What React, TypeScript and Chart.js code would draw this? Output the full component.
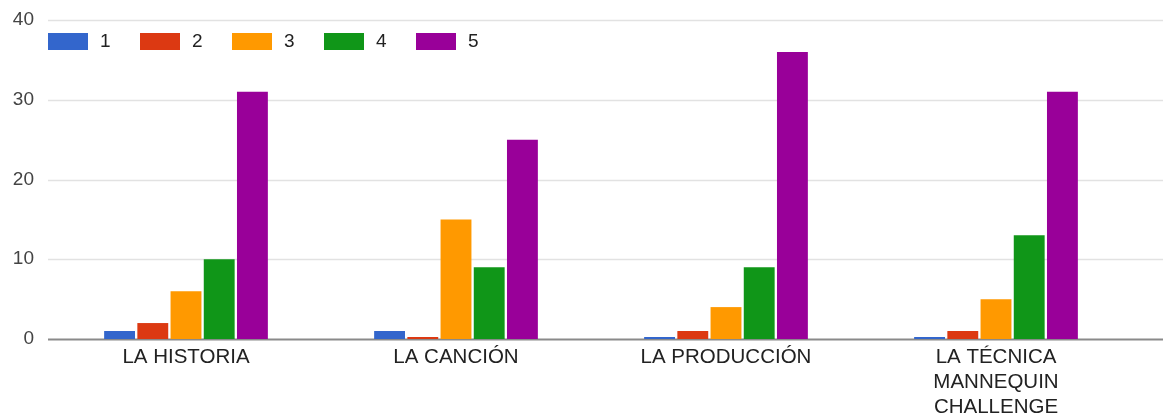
import React, { useEffect, useRef } from "react";
import { Chart, registerables } from "chart.js";

Chart.register(...registerables);

const categories: (string | string[])[] = [
  "LA HISTORIA",
  "LA CANCIÓN",
  "LA PRODUCCIÓN",
  ["LA TÉCNICA", "MANNEQUIN", "CHALLENGE"],
];

const seriesLabels = ["1", "2", "3", "4", "5"];
const seriesColors = ["#3366cc", "#dc3912", "#ff9900", "#109618", "#990099"];

const rating1 = [1, 1, 0, 0];
const rating2 = [2, 0, 1, 1];
const rating3 = [6, 15, 4, 5];
const rating4 = [10, 9, 9, 13];
const rating5 = [31, 25, 36, 31];

const yTicks = [0, 10, 20, 30, 40];

const FONT = "'Liberation Sans', Arial, sans-serif";

// Horizontal gridlines that run from just left of the plot to the canvas edge
const gridPlugin = {
  id: "wideGrid",
  beforeDatasetsDraw(chart: any) {
    const { ctx, chartArea, scales } = chart;
    const y = scales.y;
    ctx.save();
    for (const v of yTicks) {
      const py = Math.round(y.getPixelForValue(v)) + 0.5;
      ctx.beginPath();
      ctx.strokeStyle = v === 0 ? "#8a8a8a" : "#e2e2e2";
      ctx.lineWidth = v === 0 ? 2 : 1.5;
      ctx.moveTo(chartArea.left - 3, py);
      ctx.lineTo(chart.width, py);
      ctx.stroke();
    }
    ctx.restore();
  },
};

// Legend drawn over the top-left of the plot area
const overlayLegend = {
  id: "overlayLegend",
  afterDraw(chart: any) {
    const { ctx } = chart;
    ctx.save();
    ctx.font = `19px ${FONT}`;
    ctx.textBaseline = "middle";
    ctx.textAlign = "left";
    chart.data.datasets.forEach((ds: any, i: number) => {
      const x = 48 + i * 92;
      ctx.fillStyle = ds.backgroundColor;
      ctx.fillRect(x, 33, 40, 17);
      ctx.fillStyle = "#222";
      ctx.fillText(ds.label, x + 52, 42);
    });
    ctx.restore();
  },
};

export default function App() {
  const canvasRef = useRef<HTMLCanvasElement | null>(null);

  useEffect(() => {
    document.body.style.margin = "0";
    const series = [rating1, rating2, rating3, rating4, rating5];
    const chart = new Chart(canvasRef.current!, {
      type: "bar",
      data: {
        labels: categories,
        datasets: series.map((data, i) => ({
          label: seriesLabels[i],
          data,
          backgroundColor: seriesColors[i],
          borderWidth: 0,
          minBarLength: 2,
          categoryPercentage: 0.615,
          barPercentage: 0.93,
        })),
      },
      options: {
        animation: false,
        responsive: false,
        maintainAspectRatio: false,
        layout: { padding: { top: 20, right: 32, left: 0, bottom: 0 } },
        plugins: {
          legend: { display: false },
          tooltip: { enabled: false },
        },
        scales: {
          x: {
            grid: { display: false, drawTicks: false },
            border: { display: false },
            ticks: {
              color: "#222",
              font: { family: FONT, size: 20.5, lineHeight: 1.22 },
              padding: 6,
              maxRotation: 0,
              autoSkip: false,
            },
            afterFit: (scale: any) => {
              scale.height = 81;
            },
          },
          y: {
            min: 0,
            max: 40,
            grid: { display: false, drawTicks: false },
            border: { display: false },
            ticks: {
              stepSize: 10,
              color: "#444",
              font: { family: FONT, size: 19 },
              padding: 17,
            },
            afterFit: (scale: any) => {
              scale.width = 51;
              scale.paddingTop = 0;
              scale.paddingBottom = 0;
            },
          },
        },
      },
      plugins: [gridPlugin, overlayLegend],
    });
    return () => chart.destroy();
  }, []);

  return (
    <div style={{ width: 1163, height: 420 }}>
      <canvas ref={canvasRef} width={1163} height={420} />
    </div>
  );
}
